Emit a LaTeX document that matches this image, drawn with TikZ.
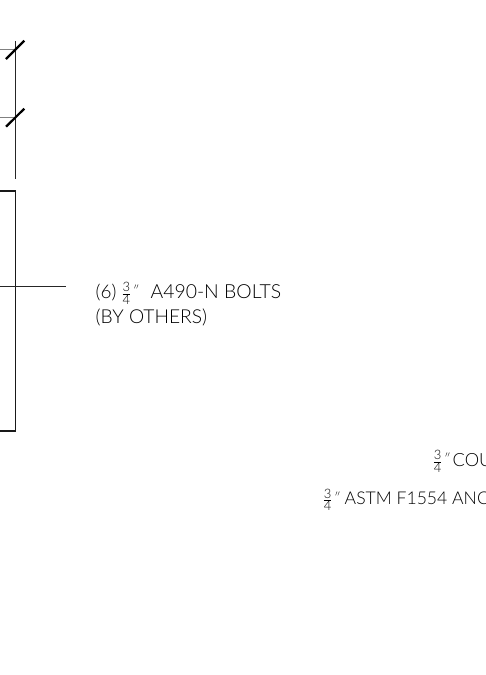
\documentclass[tikz,border=0pt]{standalone}
\usepackage{fontspec}
\setmainfont{Lato Light}[BoldFont=Lato]
\newcommand{\frc}{\raisebox{-0.3pt}{$\frac{\hbox{\fontsize{13}{13}\selectfont 3}}{\hbox{\fontsize{13}{13}\selectfont 4}}$}}
\newcommand{\inchmark}{\hspace{1pt}\raisebox{2.5pt}{\fontsize{13}{13}\selectfont\textit{\char"2033}}}
\newcommand{\sized}[1]{\fontsize{#1}{#1}\selectfont}
\tikzset{
  heavy/.style={line width=1.8pt,black!90},
  thinline/.style={line width=1pt,black!85},
  greyline/.style={line width=1.1pt,black!50},
  tickmark/.style={line width=2.2pt,black},
  notelabel/.style={inner sep=0pt,anchor=base west,font=\fontsize{18.9}{18.9}\selectfont,text=black},
}
\begin{document}
\begin{tikzpicture}[x=1pt,y=-1pt]
\useasboundingbox (0,0) rectangle (486,675);
\clip (0,0) rectangle (486,675);
% coordinates
\coordinate (dimtop) at (15.3,41);
\coordinate (dimbot) at (15.3,179);
\coordinate (ext1l) at (0,49.5);
\coordinate (ext1r) at (15.3,49.5);
\coordinate (ext2l) at (0,117.7);
\coordinate (ext2r) at (15.3,117.7);
\coordinate (tick1a) at (6,59);
\coordinate (tick1b) at (24.3,40.7);
\coordinate (tick2a) at (6,126.7);
\coordinate (tick2b) at (24.3,108.7);
\coordinate (platetl) at (0,190.7);
\coordinate (platetr) at (15.5,190.7);
\coordinate (platebr) at (15.5,430.7);
\coordinate (platebl) at (0,430.7);
\coordinate (leadl) at (0,286.7);
\coordinate (leadr) at (66,286.7);
% lines
\draw[greyline] (ext1l) -- (ext1r);
\draw[greyline] (ext2l) -- (ext2r);
\draw[thinline] (dimtop) -- (dimbot);
\draw[tickmark] (tick1a) -- (tick1b);
\draw[tickmark] (tick2a) -- (tick2b);
\draw[heavy] (platetl) -- (platetr) -- (platebr) -- (platebl);
\draw[thinline] (leadl) -- (leadr);
% text
\node[notelabel] (bolts) at (95.5,298) {(6) \frc\inchmark\hspace{12pt}{\sized{19.4}A490-N BOLTS}};
\node[notelabel] (others) at (95.5,323.5) {\sized{19.2}(BY OTHERS)};
\node[notelabel] (cou) at (432.5,466) {\frc\inchmark\hspace{3pt}{\sized{18.2}COU}};
\node[notelabel] (anc) at (322.5,504.5) {\frc\inchmark\hspace{5pt}{\sized{17.6}ASTM F1554 ANC}};
\end{tikzpicture}
\end{document}
